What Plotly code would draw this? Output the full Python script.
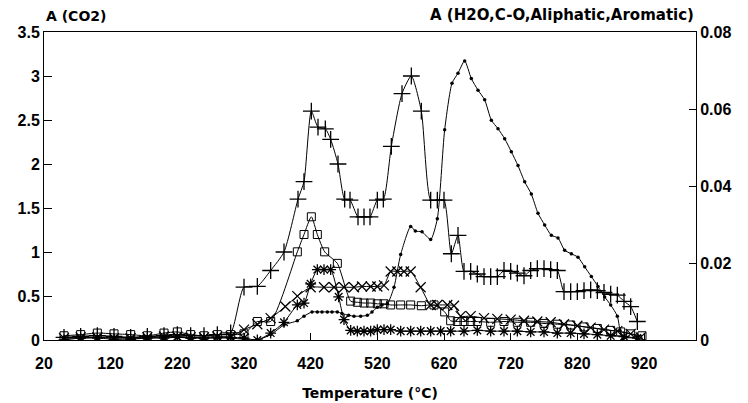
import plotly.graph_objects as go

# ---------------- data ----------------
# CO2 (left axis, absorbance)
co2_t = [50, 75, 100, 125, 150, 175, 200, 220, 240, 260, 280, 300, 320, 340, 360, 380,
         401, 410, 421, 431, 442, 450, 461, 471, 479, 491, 500, 509, 520, 529, 541, 557,
         571, 586, 600, 610, 620, 631, 641, 650, 660, 670, 680, 690, 700, 710, 720, 730,
         740, 750, 760, 770, 780, 790, 800, 810, 820, 830, 840, 850, 860, 870, 880, 890,
         900, 910]
co2_a = [0.03, 0.04, 0.05, 0.04, 0.03, 0.04, 0.05, 0.06, 0.05, 0.05, 0.06, 0.08, 0.60, 0.61, 0.79, 1.00,
         1.60, 1.80, 2.60, 2.42, 2.40, 2.28, 2.00, 1.60, 1.59, 1.40, 1.40, 1.40, 1.59, 1.60, 2.20, 2.80,
         3.00, 2.60, 1.59, 1.59, 1.59, 0.98, 1.19, 0.78, 0.78, 0.75, 0.72, 0.72, 0.72, 0.79, 0.78, 0.76,
         0.73, 0.79, 0.81, 0.81, 0.80, 0.79, 0.55, 0.55, 0.55, 0.56, 0.57, 0.56, 0.54, 0.52, 0.51, 0.44,
         0.38, 0.21]

# H2O (right axis)
h2o_t = [50, 75, 100, 125, 150, 175, 200, 220, 240, 260, 280, 300, 320, 340, 360, 380, 400, 410,
         422, 430, 437, 445, 452, 460, 467, 477, 485, 495, 505, 512, 520, 527, 535, 545, 555, 570,
         577, 587, 600, 610, 621, 632, 641, 651, 661, 671, 681, 691, 701, 711, 721, 731, 741, 751,
         761, 771, 781, 791, 801, 811, 821, 831, 841, 851, 861, 870, 880, 884, 888]
h2o_a = [0.0005, 0.0005, 0.0007, 0.0007, 0.0005, 0.0005, 0.0007, 0.0007, 0.0007, 0.0005, 0.0005, 0.0005,
         0.0002, 0.0000, 0.0014, 0.0039, 0.0050, 0.0062, 0.0073, 0.0073, 0.0073, 0.0073, 0.0073, 0.0073,
         0.0069, 0.0064, 0.0062, 0.0062, 0.0064, 0.0073, 0.0085, 0.0091, 0.0094, 0.0137, 0.0222, 0.0295,
         0.0283, 0.0281, 0.0261, 0.0315, 0.0546, 0.0667, 0.0693, 0.0725, 0.0679, 0.0649, 0.0624, 0.0571,
         0.0549, 0.0523, 0.0489, 0.0453, 0.0411, 0.0379, 0.0329, 0.0299, 0.0272, 0.0265, 0.0233, 0.0224,
         0.0215, 0.0190, 0.0165, 0.0139, 0.0112, 0.0091, 0.0062, 0.0025, 0.0000]

# C-O (right axis)
co_t = [50, 75, 100, 125, 150, 175, 200, 220, 240, 260, 280, 300, 320, 340, 360, 400, 410, 421,
        430, 441, 460, 480, 490, 500, 510, 520, 530, 540, 555, 570, 586, 605, 621, 630, 640, 650,
        660, 670, 690, 710, 730, 750, 770, 790, 810, 830, 850, 870, 885, 900, 917]
co_a = [0.0011, 0.0014, 0.0018, 0.0016, 0.0014, 0.0011, 0.0018, 0.0021, 0.0014, 0.0011, 0.0014, 0.0014,
        0.0016, 0.0048, 0.0048, 0.0229, 0.0274, 0.0320, 0.0274, 0.0229, 0.0199, 0.0101, 0.0098, 0.0096,
        0.0096, 0.0094, 0.0094, 0.0091, 0.0091, 0.0091, 0.0089, 0.0091, 0.0073, 0.0050, 0.0048, 0.0048,
        0.0048, 0.0048, 0.0046, 0.0048, 0.0046, 0.0046, 0.0043, 0.0041, 0.0039, 0.0034, 0.0030, 0.0025,
        0.0021, 0.0016, 0.0011]

# Aliphatic (right axis)
ali_t = [50, 75, 100, 125, 150, 175, 200, 220, 240, 260, 280, 300, 320, 340, 360, 382, 400, 420,
         440, 455, 470, 485, 497, 510, 520, 530, 540, 550, 560, 570, 585, 600, 610, 625, 635, 645,
         660, 680, 700, 720, 740, 760, 780, 800, 820, 840, 860, 880, 900, 915]
ali_a = [0.0005, 0.0007, 0.0007, 0.0005, 0.0005, 0.0007, 0.0009, 0.0009, 0.0007, 0.0007, 0.0009, 0.0009,
         0.0027, 0.0041, 0.0057, 0.0087, 0.0114, 0.0137, 0.0137, 0.0137, 0.0137, 0.0137, 0.0139, 0.0139,
         0.0139, 0.0142, 0.0178, 0.0178, 0.0178, 0.0178, 0.0137, 0.0091, 0.0091, 0.0091, 0.0089, 0.0062,
         0.0062, 0.0057, 0.0055, 0.0053, 0.0050, 0.0048, 0.0046, 0.0041, 0.0037, 0.0032, 0.0027, 0.0023,
         0.0016, 0.0007]

# Aromatic (right axis)
aro_t = [50, 75, 100, 125, 150, 175, 200, 220, 240, 260, 280, 300, 320, 340, 360, 380, 400, 410,
         420, 430, 440, 450, 462, 470, 480, 490, 500, 510, 520, 530, 540, 555, 570, 585, 600, 615,
         630, 650, 670, 690, 710, 730, 750, 770, 790, 810, 830, 850, 870, 890, 910]
aro_a = [0.0000, 0.0005, 0.0005, 0.0002, 0.0002, 0.0005, 0.0005, 0.0007, 0.0005, 0.0005, 0.0007, 0.0007,
         0.0005, 0.0000, 0.0018, 0.0046, 0.0091, 0.0096, 0.0146, 0.0183, 0.0183, 0.0183, 0.0112, 0.0053,
         0.0025, 0.0023, 0.0023, 0.0023, 0.0027, 0.0027, 0.0027, 0.0023, 0.0023, 0.0023, 0.0023, 0.0023,
         0.0023, 0.0023, 0.0025, 0.0023, 0.0023, 0.0023, 0.0021, 0.0021, 0.0018, 0.0018, 0.0016, 0.0014,
         0.0011, 0.0009, 0.0005]

x_ticks = [20, 120, 220, 320, 420, 520, 620, 720, 820, 920]
y_left_ticks = [0, 0.5, 1, 1.5, 2, 2.5, 3, 3.5]
y_left_labels = ["0", "0.5", "1", "1.5", "2", "2.5", "3", "3.5"]
y_right_ticks = [0, 0.02, 0.04, 0.06, 0.08]
y_right_labels = ["0", "0.02", "0.04", "0.06", "0.08"]

# ---------------- figure ----------------
BLACK = "black"
tick_font = dict(family="Liberation Sans, Arial, sans-serif", size=16, color=BLACK, weight="bold")
title_font = dict(family="DejaVu Sans, sans-serif", size=14, color=BLACK, weight="bold")

fig = go.Figure()

line_style = dict(color=BLACK, width=1, shape="spline", smoothing=0.6)

fig.add_trace(go.Scatter(x=co2_t, y=co2_a, name="CO2", mode="lines+markers", yaxis="y",
                         line=line_style,
                         marker=dict(symbol="cross-thin", size=12, color=BLACK,
                                     line=dict(color=BLACK, width=1.3))))
fig.add_trace(go.Scatter(x=h2o_t, y=h2o_a, name="H2O", mode="lines+markers", yaxis="y2",
                         line=line_style,
                         marker=dict(symbol="circle", size=3.5, color=BLACK)))
fig.add_trace(go.Scatter(x=co_t, y=co_a, name="C-O", mode="lines+markers", yaxis="y2",
                         line=line_style,
                         marker=dict(symbol="square-open", size=8, color=BLACK,
                                     line=dict(color=BLACK, width=1))))
fig.add_trace(go.Scatter(x=ali_t, y=ali_a, name="Aliphatic", mode="lines+markers", yaxis="y2",
                         line=line_style,
                         marker=dict(symbol="x-thin", size=10, color=BLACK,
                                     line=dict(color=BLACK, width=1.2))))
fig.add_trace(go.Scatter(x=aro_t, y=aro_a, name="Aromatic", mode="lines+markers", yaxis="y2",
                         line=line_style,
                         marker=dict(symbol="asterisk", size=9, color=BLACK,
                                     line=dict(color=BLACK, width=1.3))))

fig.update_layout(
    width=748, height=403,
    margin=dict(l=44, r=52, t=32, b=63, autoexpand=False),
    paper_bgcolor="white", plot_bgcolor="white",
    showlegend=False,
    xaxis=dict(range=[20, 998], tickvals=x_ticks, ticktext=[str(v) for v in x_ticks],
               ticks="inside", ticklen=7, tickcolor=BLACK, tickwidth=1,
               showline=True, linecolor=BLACK, linewidth=1, mirror=True, automargin=False,
               showgrid=False, zeroline=False, tickfont=tick_font, ticklabelstandoff=9,
               title=dict(text="Temperature (°C)", font=title_font, standoff=16)),
    yaxis=dict(range=[0, 3.5], tickvals=y_left_ticks, ticktext=y_left_labels,
               ticks="inside", ticklen=8, tickcolor=BLACK, tickwidth=1, automargin=False,
               showline=True, linecolor=BLACK, linewidth=1,
               showgrid=False, zeroline=False, tickfont=tick_font),
    yaxis2=dict(range=[0, 0.08], tickvals=y_right_ticks, ticktext=y_right_labels,
                overlaying="y", side="right", automargin=False,
                ticks="inside", ticklen=7, tickcolor=BLACK, tickwidth=1,
                showline=True, linecolor=BLACK, linewidth=1,
                showgrid=False, zeroline=False, tickfont=tick_font),
    annotations=[
        dict(text="A (CO2)", xref="paper", yref="paper", x=0, y=1, xanchor="left",
             yanchor="bottom", yshift=6, showarrow=False, font=title_font),
        dict(text="A (H2O,C-O,Aliphatic,Aromatic)", xref="paper", yref="paper", x=1, y=1,
             xanchor="right", yanchor="bottom", yshift=6, showarrow=False,
             font=dict(family="DejaVu Sans, sans-serif", size=15, color=BLACK, weight="bold")),
    ],
)

fig.write_html("out.html")
